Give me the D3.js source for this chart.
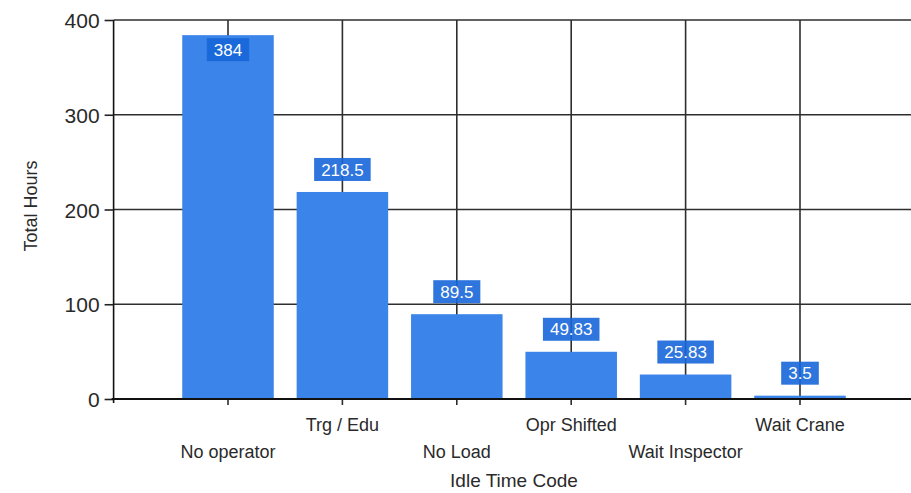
<!DOCTYPE html>
<html><head><meta charset="utf-8">
<script src="https://cdn.jsdelivr.net/npm/d3@7"></script>
<style>body{margin:0;background:#fff}svg{display:block}text{font-family:Arial,"Liberation Sans",sans-serif}</style>
</head><body>
<svg id="c" width="911" height="493"></svg>
<script>
const categories = ["No operator","Trg / Edu","No Load","Opr Shifted","Wait Inspector","Wait Crane"];
const values = [384, 218.5, 89.5, 49.83, 25.83, 3.5];
const valueLabels = ["384","218.5","89.5","49.83","25.83","3.5"];
const yTicks = [0,100,200,300,400];
const xTitle = "Idle Time Code";
const yTitle = "Total Hours";

const svg = d3.select("#c");
const pLeft = 113.6, pRight = 914.4, pTop = 20, pBottom = 399;
const x = d3.scalePoint().domain(categories).range([pLeft, pRight]).padding(1);
const y = d3.scaleLinear().domain([0,400]).range([pBottom, pTop]);
const step = x.step();
const bw = step * 0.8;
const gridCol = "#2e2e2e";

// horizontal gridlines
svg.append("g").selectAll("line").data(yTicks.filter(d=>d>0)).join("line")
  .attr("x1", pLeft).attr("x2", 911).attr("y1", d=>y(d)).attr("y2", d=>y(d))
  .attr("stroke", gridCol).attr("stroke-width", 1.6);
// vertical gridlines
svg.append("g").selectAll("line").data(categories).join("line")
  .attr("x1", d=>x(d)).attr("x2", d=>x(d)).attr("y1", pTop).attr("y2", pBottom+6)
  .attr("stroke", gridCol).attr("stroke-width", 1.6);

// bars
svg.append("g").selectAll("rect").data(categories).join("rect")
  .attr("x", d=>x(d)-bw/2).attr("width", bw)
  .attr("y", (d,i)=>y(values[i])).attr("height", (d,i)=>pBottom - y(values[i]))
  .attr("fill", "#3b84e9");

// axes
const yAxis = svg.append("g").attr("transform", `translate(${pLeft},0)`)
  .call(d3.axisLeft(y).tickValues(yTicks).tickSize(9).tickPadding(5).tickFormat(d3.format("d")));
yAxis.select(".domain").attr("stroke", "#111").attr("stroke-width", 1.6).attr("d", `M0,${pTop}V${pBottom+4}`);
yAxis.selectAll(".tick line").attr("stroke", "#222").attr("stroke-width", 1.6);
yAxis.selectAll(".tick text").attr("font-size", 21).attr("fill", "#2a2a2a").attr("dy", "0.36em");

svg.append("line").attr("x1", pLeft-2).attr("x2", 911).attr("y1", pBottom).attr("y2", pBottom)
  .attr("stroke", "#111").attr("stroke-width", 1.8);

// category labels (staggered)
svg.append("g").selectAll("text").data(categories).join("text")
  .attr("x", d=>x(d)).attr("y", (d,i)=> i%2===0 ? 458 : 431)
  .attr("text-anchor", "middle").attr("font-size", 18).attr("fill", "#2a2a2a")
  .text(d=>d);

// value labels
const lg = svg.append("g").selectAll("g").data(categories).join("g");
const boxH = 23;
lg.each(function(d,i){
  const g = d3.select(this);
  const t = g.append("text").attr("font-size", 17).attr("fill", "#fff")
    .attr("text-anchor", "middle").attr("x", x(d)).text(valueLabels[i]);
  const tw = t.node().getComputedTextLength();
  const w = tw + 14;
  const yt = y(values[i]);
  let boxY = yt - 11 - boxH;
  if (boxY < pTop) boxY = yt + 3;
  g.insert("rect", "text").attr("x", x(d)-w/2).attr("y", boxY).attr("width", w).attr("height", boxH)
    .attr("fill", "#1766d9").attr("fill-opacity", 0.9);
  t.attr("y", boxY + boxH/2).attr("dy", "0.36em");
});

// titles
svg.append("text").attr("x", (pLeft+pRight)/2).attr("y", 487).attr("text-anchor","middle")
  .attr("font-size", 19).attr("fill", "#2a2a2a").text(xTitle);
svg.append("text").attr("transform", "translate(37,206) rotate(-90)").attr("text-anchor","middle")
  .attr("font-size", 18).attr("fill", "#2a2a2a").text(yTitle);
</script>
</body></html>
